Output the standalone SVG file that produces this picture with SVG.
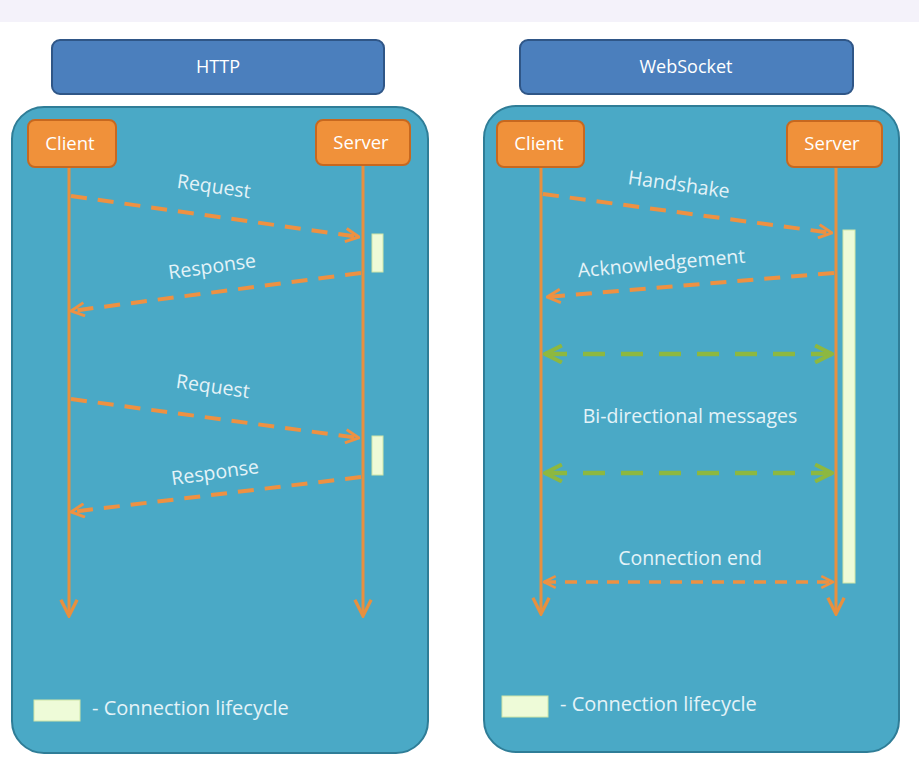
<svg xmlns="http://www.w3.org/2000/svg" width="919" height="781" viewBox="0 0 919 781">
<defs>
<style>
.hdr{fill:#4b7fbd;stroke:#2f5687;stroke-width:2}
.panel{fill:#4aa9c6;stroke:#2f7d97;stroke-width:2}
.actor{fill:#f0913a;stroke:#c7681f;stroke-width:2}
.life{stroke:#e8903f;stroke-width:3;fill:none}
.msg{stroke:#ee9142;stroke-width:4;fill:none;stroke-dasharray:16 11}
.bi{stroke:#8db840;stroke-width:4.5;fill:none;stroke-dasharray:22 16}
.bar{fill:#eefbd8;stroke:#cfe6a8;stroke-width:1}
.t{font-family:"Open Sans","Liberation Sans",sans-serif;fill:#e4f3f8;font-size:19.5px;text-anchor:middle}
.tl{font-family:"Open Sans","Liberation Sans",sans-serif;fill:#e4f3f8;font-size:20px;text-anchor:start}
.th{font-family:"Open Sans","Liberation Sans",sans-serif;fill:#ffffff;font-size:18px;text-anchor:middle}
.ta{font-family:"Open Sans","Liberation Sans",sans-serif;fill:#ffffff;font-size:18.5px;text-anchor:middle}
</style>
<marker id="ao" viewBox="0 0 12 12" refX="11" refY="6" markerWidth="4" markerHeight="4" orient="auto-start-reverse" markerUnits="strokeWidth">
<path d="M1,1 L11,6 L1,11" fill="none" stroke="#ee9142" stroke-width="2.2"/>
</marker>
<marker id="ag" viewBox="0 0 12 12" refX="11" refY="6" markerWidth="4.5" markerHeight="4.5" orient="auto-start-reverse" markerUnits="strokeWidth">
<path d="M1,1 L11,6 L1,11" fill="none" stroke="#8db840" stroke-width="2.4"/>
</marker>
<marker id="al" viewBox="0 0 12 12" refX="11" refY="6" markerWidth="6.5" markerHeight="6.5" orient="auto" markerUnits="strokeWidth">
<path d="M1,1 L11,6 L1,11" fill="none" stroke="#e8903f" stroke-width="2"/>
</marker>
</defs>
<rect width="919" height="781" fill="#ffffff"/>
<rect width="919" height="22" fill="#f4f2fa"/>

<g id="http-header"><rect class="hdr" x="52" y="40" width="332" height="54" rx="8"/><text class="th" x="218" y="73">HTTP</text></g>
<g id="ws-header"><rect class="hdr" x="520" y="40" width="333" height="54" rx="8"/><text class="th" x="686" y="73">WebSocket</text></g>

<g id="http-panel"><rect class="panel" x="12" y="107" width="416" height="646" rx="32"/></g>
<g id="ws-panel"><rect class="panel" x="484" y="106" width="415" height="646" rx="32"/></g>

<g id="connectors">
<line class="life" x1="69" y1="167" x2="69" y2="616" marker-end="url(#al)"/>
<line class="life" x1="363" y1="165" x2="363" y2="616" marker-end="url(#al)"/>
<line class="life" x1="541" y1="167" x2="541" y2="614" marker-end="url(#al)"/>
<line class="life" x1="836" y1="167" x2="836" y2="614" marker-end="url(#al)"/>

<line class="msg" x1="71" y1="196" x2="359" y2="237" marker-end="url(#ao)"/>
<line class="msg" x1="361" y1="273" x2="71" y2="311" marker-end="url(#ao)"/>
<line class="msg" x1="71" y1="399" x2="359" y2="438" marker-end="url(#ao)"/>
<line class="msg" x1="361" y1="477" x2="71" y2="512" marker-end="url(#ao)"/>

<line class="msg" x1="543" y1="194" x2="832" y2="233" marker-end="url(#ao)"/>
<line class="msg" x1="834" y1="273" x2="547" y2="297" marker-end="url(#ao)"/>
<line class="bi" x1="545" y1="354" x2="832" y2="354" marker-start="url(#ag)" marker-end="url(#ag)"/>
<line class="bi" x1="545" y1="473" x2="832" y2="473" marker-start="url(#ag)" marker-end="url(#ag)"/>
<line class="msg" x1="544" y1="582" x2="833" y2="582" marker-start="url(#ao)" marker-end="url(#ao)" style="stroke-width:3.5;stroke-dasharray:12 9"/>
</g>

<g id="http-client"><rect class="actor" x="28" y="120" width="88" height="47" rx="7"/><text class="ta" x="70" y="150">Client</text></g>
<g id="http-server"><rect class="actor" x="316" y="120" width="94" height="45" rx="7"/><text class="ta" x="361" y="149">Server</text></g>
<g id="ws-client"><rect class="actor" x="497" y="121" width="87" height="46" rx="7"/><text class="ta" x="539" y="150">Client</text></g>
<g id="ws-server"><rect class="actor" x="787" y="121" width="95" height="46" rx="7"/><text class="ta" x="832" y="150">Server</text></g>

<g id="http-bars">
<rect class="bar" x="372" y="234" width="11" height="38"/>
<rect class="bar" x="372" y="436" width="11" height="39"/>
</g>
<g id="ws-bar"><rect class="bar" x="843" y="230" width="12" height="353"/></g>

<g id="labels">
<text class="t" transform="translate(213,193) rotate(8)">Request</text>
<text class="t" transform="translate(213,273) rotate(-8)">Response</text>
<text class="t" transform="translate(212,393) rotate(8)">Request</text>
<text class="t" transform="translate(216,479) rotate(-8)">Response</text>
<text class="t" transform="translate(678,191) rotate(8)">Handshake</text>
<text class="t" transform="translate(662,270) rotate(-5)">Acknowledgement</text>
<text class="t" x="690" y="423">Bi-directional messages</text>
<text class="t" x="690" y="565">Connection end</text>
</g>

<g id="http-legend"><rect class="bar" x="34" y="700" width="46" height="21"/><text class="tl" x="92" y="715">- Connection lifecycle</text></g>
<g id="ws-legend"><rect class="bar" x="502" y="696" width="46" height="21"/><text class="tl" x="560" y="711">- Connection lifecycle</text></g>
</svg>
